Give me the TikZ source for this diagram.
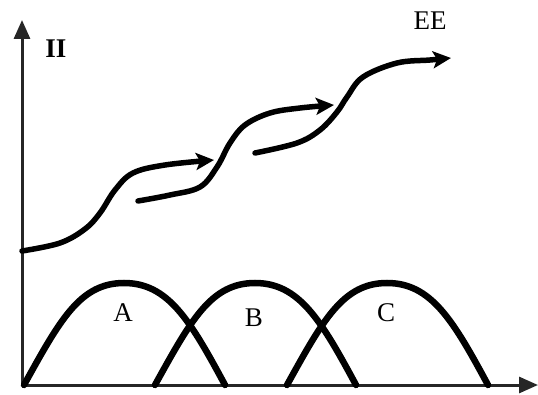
\documentclass[tikz,border=0pt]{standalone}
\usepackage{fontspec}
\setmainfont{Liberation Serif}
\usetikzlibrary{arrows.meta}

\begin{document}
\begin{tikzpicture}[
                x=1pt, y=-1pt,
                axis/.style={
                    draw=black!85,
                    line width=3pt,
                    -{Triangle[length=19pt, width=16pt]}
                },
                hump/.style={
                    line width=6.5pt,
                    line cap=round
                },
                flow/.style={
                    line width=5.5pt,
                    line cap=round,
                    -{Stealth[length=18pt, width=17pt, inset=4pt]}
                },
                lbl/.style={
                    font=\fontsize{27}{30}\selectfont,
                    inner sep=0pt
                }
            ]
                \useasboundingbox (0,0) rectangle (538,395);

                % axes
                \coordinate (origin) at (22,385);
                \coordinate (ytip) at (22,20);
                \coordinate (xtip) at (538,385);
                \draw[axis] (origin) -- (ytip);
                \draw[axis] (origin) -- (xtip);
                \node[lbl, font=\fontsize{27}{30}\selectfont\bfseries] (ylabel) at (56,49) {II};
                \node[lbl] (elabel) at (430,21) {EE};

                % three overlapping humps
                \foreach \dx/\name/\ly in {0/A/313, 131/B/318, 263/C/313} {
                    \begin{scope}[xshift=\dx]
                        \draw[hump] (24,385) .. controls (60,320) and (80,283) .. (124,283)
                                    .. controls (168,283) and (190,320) .. (225,385);
                        \node[lbl] (hump\name) at (123,\ly) {\name};
                    \end{scope}
                }

                % rising stepped curve
                \draw[flow] plot[smooth, tension=0.6] coordinates {
                    (22,251) (60,243) (85,229) (100,213) (115,190) (133,173) (165,165) (214,160)};
                \draw[flow] plot[smooth, tension=0.6] coordinates {
                    (138,201) (170,195) (200,187) (217,167) (230,143) (245,125) (270,113) (300,108) (334,105)};
                \draw[flow] plot[smooth, tension=0.6] coordinates {
                    (255,153) (297,143) (320,130) (337,112) (347,97) (363,77) (397,63) (430,60) (451,58)};
        \end{tikzpicture}
\end{document}
